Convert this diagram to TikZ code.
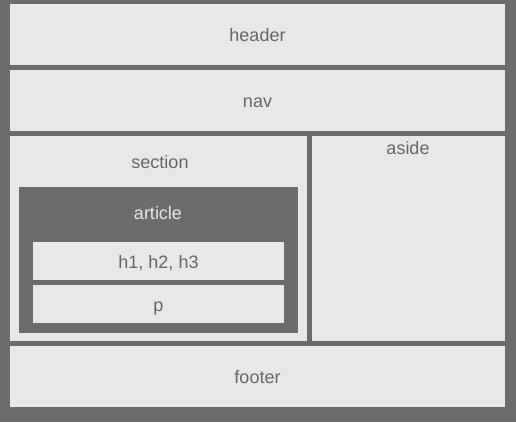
\documentclass[tikz,border=0pt]{standalone}
\usepackage{fontspec}
\setmainfont{Liberation Sans}
\definecolor{framegray}{HTML}{6B6B6B}
\definecolor{boxgray}{HTML}{E8E8E8}
\definecolor{textgray}{HTML}{666666}
\begin{document}
\begin{tikzpicture}[x=0.75pt, y=-0.75pt,
    box/.style={rectangle, fill=boxgray, inner sep=0pt, minimum width=#1},
    box/.default=371.25pt,
    dark/.style={rectangle, fill=framegray, inner sep=0pt},
    txt/.style={text=textgray, font=\fontsize{13.5}{16}\selectfont, inner sep=0pt,
        text height=11.5pt, text depth=0.5pt}
]
    % Background
    \fill[framegray] (0,0) rectangle (516,422);
    \useasboundingbox (0,0) rectangle (516,422);

    % Full-width rows
    \node[box, minimum height=45.75pt] (header) at (257.5, 34.5) {};
    \node[box, minimum height=45.75pt] (nav) at (257.5, 100.5) {};
    \node[box, minimum height=45.75pt] (footer) at (257.5, 376.5) {};

    % Middle row
    \node[box=222.75pt, minimum height=153.75pt] (section) at (158.5, 238.5) {};
    \node[box=144.75pt, minimum height=153.75pt] (aside) at (408.5, 238.5) {};

    % Article inside section
    \node[dark, minimum width=209.25pt, minimum height=109.5pt] (article) at (158.5, 260) {};
    \node[box=188.25pt, minimum height=28.5pt] (headings) at (158.5, 261) {};
    \node[box=188.25pt, minimum height=28.5pt] (para) at (158.5, 304) {};

    % Labels
    \node[txt] at (header) {header};
    \node[txt] at (nav) {nav};
    \node[txt] at (footer) {footer};
    \node[txt] at (headings) {h1, h2, h3};
    \node[txt] at (para) {p};
    \node[txt] (sectionlabel) at (160, 161) {section};
    \node[txt] (asidelabel) at (408, 147) {aside};
    \node[txt, text=boxgray] (articlelabel) at (158, 212) {article};
\end{tikzpicture}
\end{document}
